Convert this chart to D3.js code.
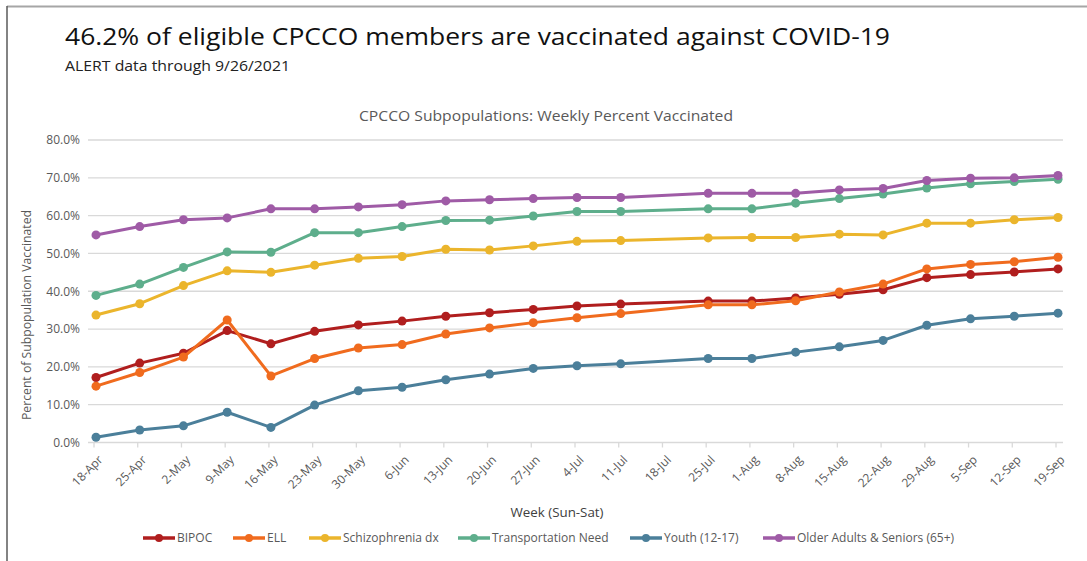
<!DOCTYPE html>
<html>
<head>
<meta charset="utf-8">
<script src="https://cdn.jsdelivr.net/npm/d3@7"></script>
<style>
  html, body { margin: 0; padding: 0; background: #fff; }
  svg { display: block; }
  text { font-family: "Open Sans", "Noto Sans", sans-serif; }
</style>
</head>
<body>
<svg id="chart" width="1087" height="561"></svg>
<script>
// ---- data ----
const weeks = ["18-Apr","25-Apr","2-May","9-May","16-May","23-May","30-May","6-Jun","13-Jun","20-Jun","27-Jun","4-Jul","11-Jul","18-Jul","25-Jul","1-Aug","8-Aug","15-Aug","22-Aug","29-Aug","5-Sep","12-Sep","19-Sep"];
const seriesNames = ["BIPOC","ELL","Schizophrenia dx","Transportation Need","Youth (12-17)","Older Adults & Seniors (65+)"];
const seriesColors = ["#b01e1e","#f06b1e","#ebb52c","#5eae8c","#4b7f9a","#9f5ba6"];
const bipoc      = [17.2,21.0,23.6,29.6,26.1,29.4,31.1,32.1,33.4,34.3,35.2,36.1,36.6,null,37.4,37.4,38.2,39.2,40.4,43.6,44.4,45.1,45.9];
const ell        = [14.9,18.5,22.6,32.4,17.6,22.2,25.0,25.9,28.7,30.3,31.7,33.0,34.1,null,36.4,36.4,37.5,39.8,41.9,45.9,47.1,47.8,49.0];
const schizo     = [33.7,36.7,41.5,45.4,45.0,46.9,48.7,49.2,51.1,50.9,52.0,53.2,53.4,null,54.1,54.2,54.2,55.1,54.9,58.0,58.0,58.9,59.5];
const transport  = [38.9,41.9,46.3,50.4,50.3,55.5,55.5,57.1,58.7,58.8,59.9,61.1,61.1,null,61.8,61.8,63.3,64.5,65.7,67.3,68.4,69.0,69.6];
const youth      = [1.4,3.3,4.4,8.0,4.0,9.9,13.7,14.6,16.6,18.1,19.6,20.3,20.8,null,22.2,22.2,23.9,25.3,27.0,31.0,32.7,33.4,34.2];
const older      = [54.9,57.1,58.9,59.4,61.8,61.8,62.3,62.9,63.9,64.2,64.5,64.8,64.8,null,65.9,65.9,65.9,66.8,67.2,69.3,69.9,70.0,70.6];
const yTicks = [0,10,20,30,40,50,60,70,80];

const allSeries = [bipoc, ell, schizo, transport, youth, older];

// ---- drawing ----
const svg = d3.select("#chart");
svg.append("rect").attr("width",1087).attr("height",561).attr("fill","#fff");

// frame lines
svg.append("line").attr("x1",7).attr("x2",1087).attr("y1",6.5).attr("y2",6.5)
  .attr("stroke","#a6a6a6").attr("stroke-width",2);
svg.append("line").attr("x1",7).attr("x2",7).attr("y1",6).attr("y2",561)
  .attr("stroke","#5a5a5a").attr("stroke-width",1.5);

// titles
svg.append("text").attr("x",65).attr("y",45)
  .attr("font-size",24).attr("fill","#111")
  .attr("textLength",825).attr("lengthAdjust","spacingAndGlyphs")
  .text("46.2% of eligible CPCCO members are vaccinated against COVID-19");
svg.append("text").attr("x",65).attr("y",71)
  .attr("font-size",15).attr("fill","#222")
  .attr("textLength",225).attr("lengthAdjust","spacingAndGlyphs")
  .text("ALERT data through 9/26/2021");
svg.append("text").attr("x",546).attr("y",121).attr("text-anchor","middle")
  .attr("font-size",15).attr("fill","#595959")
  .attr("textLength",374).attr("lengthAdjust","spacingAndGlyphs")
  .text("CPCCO Subpopulations: Weekly Percent Vaccinated");

// scales
const x = d3.scalePoint().domain(weeks).range([96, 1058]);
const y = d3.scaleLinear().domain([0, 80]).range([442.5, 140]);

// gridlines
svg.append("g").selectAll("line").data(yTicks.filter(d => d > 0)).join("line")
  .attr("x1",88).attr("x2",1063)
  .attr("y1",d => y(d)).attr("y2",d => y(d))
  .attr("stroke","#d9d9d9").attr("stroke-width",1.3);

// y axis labels
const yAxis = d3.axisLeft(y).tickValues(yTicks).tickSize(0).tickPadding(0)
  .tickFormat(d => d.toFixed(1) + "%");
const yg = svg.append("g").attr("transform","translate(80,0)").call(yAxis);
yg.select(".domain").remove();
yg.selectAll("text").attr("font-size",12).attr("fill","#595959")
  .attr("font-family","'Open Sans', sans-serif");

// x axis
const xAxis = d3.axisBottom(x).tickSize(5).tickSizeOuter(0).tickPadding(0);
const xg = svg.append("g").attr("transform","translate(0,442.5)").call(xAxis);
xg.select(".domain").attr("d","M88,0H1063").attr("stroke","#d9d9d9").attr("stroke-width",1.3);
xg.selectAll(".tick line").attr("stroke","#d9d9d9").attr("stroke-width",1.3)
  .attr("transform","translate(-2.5,0)");
xg.selectAll(".tick text")
  .attr("font-size",12).attr("fill","#595959")
  .attr("font-family","'Open Sans', sans-serif")
  .attr("text-anchor","end").attr("dy",null).attr("y",null)
  .attr("transform","translate(7,18) rotate(-45)");

// axis titles
svg.append("text").attr("transform","translate(31,315) rotate(-90)")
  .attr("text-anchor","middle").attr("font-size",13).attr("fill","#595959")
  .attr("textLength",210).attr("lengthAdjust","spacingAndGlyphs")
  .text("Percent of Subpopulation Vaccinated");
svg.append("text").attr("x",557).attr("y",517).attr("text-anchor","middle")
  .attr("font-size",13.5).attr("fill","#404040")
  .attr("textLength",93).attr("lengthAdjust","spacingAndGlyphs")
  .text("Week (Sun-Sat)");

// series lines + markers
const line = d3.line().x(d => x(d.w)).y(d => y(d.v));
allSeries.forEach((vals, i) => {
  const pts = weeks.map((w, j) => ({w, v: vals[j]})).filter(d => d.v !== null);
  const g = svg.append("g");
  g.append("path").datum(pts).attr("d", line)
    .attr("fill","none").attr("stroke",seriesColors[i])
    .attr("stroke-width",3).attr("stroke-linejoin","round");
  g.selectAll("circle").data(pts).join("circle")
    .attr("cx", d => x(d.w)).attr("cy", d => y(d.v)).attr("r",4.5)
    .attr("fill",seriesColors[i]);
});

// legend
const legendX = [143, 233, 309, 458, 630, 763];
const lg = svg.append("g");
seriesNames.forEach((name, i) => {
  const gx = legendX[i];
  const g = lg.append("g").attr("transform",`translate(${gx},538)`);
  g.append("line").attr("x1",0).attr("x2",32).attr("y1",0).attr("y2",0)
    .attr("stroke",seriesColors[i]).attr("stroke-width",3.5);
  g.append("circle").attr("cx",16).attr("cy",0).attr("r",4).attr("fill",seriesColors[i]);
  g.append("text").attr("x",34).attr("y",0).attr("dy","0.35em")
    .attr("font-size",12).attr("fill","#595959").text(name);
});
</script>
</body>
</html>
